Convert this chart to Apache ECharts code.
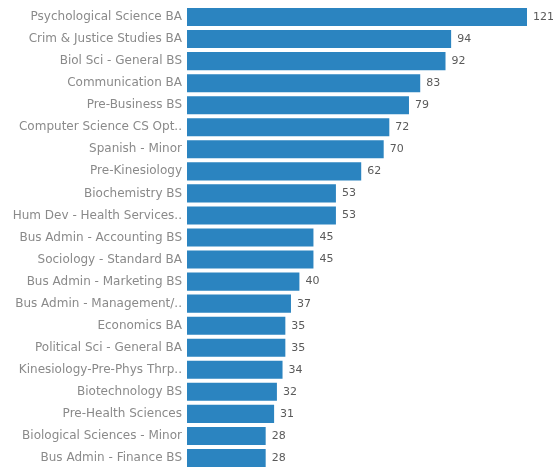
<!DOCTYPE html>
<html>
<head>
<meta charset="utf-8">
<script src="https://cdn.jsdelivr.net/npm/echarts@6/dist/echarts.min.js"></script>
<style>
  html, body { margin: 0; padding: 0; background: #fff; }
  #chart { width: 560px; height: 471px; }
</style>
</head>
<body>
<div id="chart"></div>
<script>
// Programs ranked by count (top to bottom)
const programs = [
  "Psychological Science BA",
  "Crim & Justice Studies BA",
  "Biol Sci - General BS",
  "Communication BA",
  "Pre-Business BS",
  "Computer Science CS Opt..",
  "Spanish - Minor",
  "Pre-Kinesiology",
  "Biochemistry BS",
  "Hum Dev - Health Services..",
  "Bus Admin - Accounting BS",
  "Sociology - Standard BA",
  "Bus Admin - Marketing BS",
  "Bus Admin - Management/..",
  "Economics BA",
  "Political Sci - General BA",
  "Kinesiology-Pre-Phys Thrp..",
  "Biotechnology BS",
  "Pre-Health Sciences",
  "Biological Sciences - Minor",
  "Bus Admin - Finance BS"
];
const counts = [121, 94, 92, 83, 79, 72, 70, 62, 53, 53, 45, 45, 40, 37, 35, 35, 34, 32, 31, 28, 28];

const chart = echarts.init(document.getElementById('chart'));
chart.setOption({
  animation: false,
  grid: { left: 187, right: 33, top: 6, bottom: 2 },
  xAxis: {
    type: 'value',
    min: 0,
    max: 121,
    show: false
  },
  yAxis: {
    type: 'category',
    inverse: true,
    data: programs,
    axisLine: { show: false },
    axisTick: { show: false },
    axisLabel: {
      margin: 5,
      color: '#8a8a8a',
      fontFamily: 'DejaVu Sans',
      fontSize: 12
    }
  },
  series: [{
    type: 'bar',
    data: counts,
    barCategoryGap: '18%',
    itemStyle: { color: '#2b84c0' },
    label: {
      show: true,
      position: 'right',
      distance: 6,
      color: '#5a5a5a',
      fontFamily: 'DejaVu Sans',
      fontSize: 11
    }
  }]
});
</script>
</body>
</html>
